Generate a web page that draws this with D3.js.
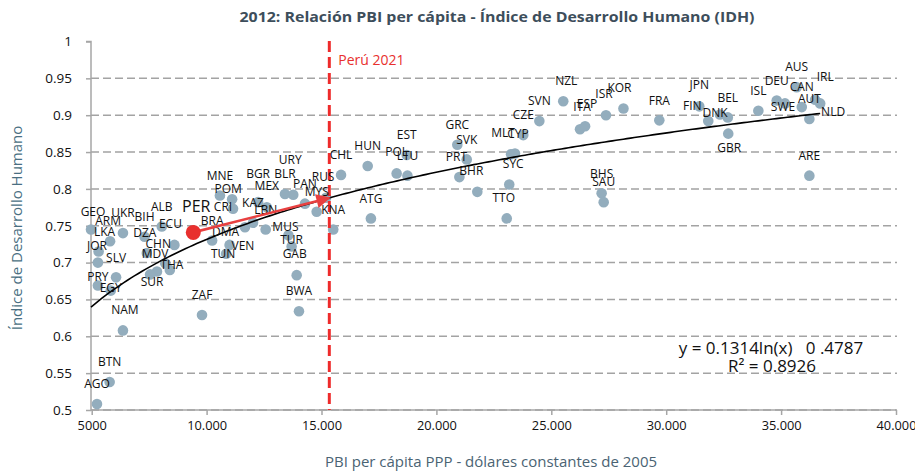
<!DOCTYPE html>
<html><head><meta charset="utf-8">
<script src="https://cdn.jsdelivr.net/npm/d3@7"></script>
<style>
body{margin:0;background:#fff;}
svg{display:block;font-family:'Open Sans',sans-serif;}
</style>
</head><body>
<svg id="chart" width="915" height="474"></svg>
<script>
// ---------------- DATA ----------------
const countries = ["GEO","ARM","UKR","BIH","ALB","ECU","LKA","DZA","JOR","CHN","MDV","SLV","THA","SUR","PRY","EGY","NAM","ZAF","BTN","AGO","BWA","GAB","TUR","MUS","BRA","DMA","TUN","VEN","KAZ","LBN","MNE","POM","CRI","BGR","MEX","BLR","URY","PAN","RUS","MYS","KNA","CHL","HUN","ATG","EST","POL","LTU","GRC","SVK","PRT","BHR","MLT","CYP","SYC","TTO","CZE","SVN","NZL","ITA","ESP","ISR","KOR","FRA","JPN","FIN","DNK","BEL","GBR","ISL","DEU","SWE","AUS","CAN","AUT","IRL","NLD","ARE","BHS","SAU"];
const gdpPerCapita = [4970,5800,6360,7300,8050,8600,5300,7400,5270,8200,7840,6060,8400,7540,5270,5830,6360,9800,5780,5230,14020,13920,13700,13560,10240,11000,10850,11670,12020,12570,10580,11110,11150,12240,12620,13410,13770,14280,15200,14790,15510,15850,17010,17150,18710,18270,18740,20910,21320,21000,21780,23250,23420,23170,23060,23780,24480,25520,26250,26470,27380,28140,29700,31440,31830,32340,32680,32700,34010,34810,35170,35680,35900,36230,36700,36480,36230,27190,27280];
const hdiValues = [0.745,0.729,0.740,0.735,0.749,0.724,0.715,0.713,0.700,0.699,0.688,0.680,0.690,0.684,0.669,0.662,0.608,0.629,0.538,0.508,0.634,0.683,0.722,0.737,0.730,0.724,0.712,0.748,0.754,0.745,0.791,0.786,0.773,0.782,0.775,0.793,0.792,0.780,0.788,0.769,0.745,0.819,0.831,0.760,0.846,0.821,0.818,0.860,0.840,0.816,0.796,0.847,0.848,0.806,0.760,0.873,0.892,0.919,0.881,0.885,0.900,0.909,0.893,0.912,0.892,0.901,0.897,0.875,0.906,0.920,0.916,0.938,0.911,0.895,0.916,0.921,0.818,0.794,0.782];

const peruCode = "PER";
const peruGdp = 9420;
const peruHdi = 0.741;
const peru2021Gdp = 15340;
const peru2021Label = "Perú 2021";

const trendA = 0.1314, trendB = -0.4787;
const equationText = "y = 0.1314ln(x)   0 .4787";
const r2Text = "R² = 0.8926";

const xTicks = [5000,10000,15000,20000,25000,30000,35000,40000];
const xTickLabels = ["5000","10.000","15.000","20.000","25.000","30.000","35.000","40.000"];
const yTicks = [0.5,0.55,0.6,0.65,0.7,0.75,0.8,0.85,0.9,0.95,1];
const yTickLabels = ["0.5","0.55","0.6","0.65","0.7","0.75","0.8","0.85","0.9","0.95","1"];

const titleText = "2012: Relación PBI per cápita - Índice de Desarrollo Humano (IDH)";
const xTitle = "PBI per cápita PPP - dólares constantes de 2005";
const yTitle = "Índice de Desarrollo Humano";

// ---------------- LAYOUT (label nudges, px) ----------------
const labelNudge = {
  GEO:[2,-18], ARM:[-2,-20], LKA:[6,-20], ECU:[-4,-21], JOR:[-1,-17], CHN:[-7,-20], MDV:[-2,-18],
  THA:[2,-5], SUR:[2,7], PRY:[0,-9], EGY:[0,-3], NAM:[2,-21], DZA:[-2,-20], GAB:[-2,-21], TUR:[0,-7],
  MUS:[-3,-9], DMA:[-4,-13], TUN:[-3,0], VEN:[-2,19], POM:[-4,-10], CRI:[-10,-2], BGR:[0,-28], MEX:[0,-22],
  URY:[-3,-35], RUS:[-3,-21], PRT:[-3,-20], BHR:[-6,-21], MLT:[-8,-21], CYP:[3,-20], SYC:[4,-21], TTO:[-3,-21],
  NZL:[3,-20], ITA:[2,-22], ESP:[2,-22], ISR:[-2,-21], KOR:[-4,-21], FIN:[-16,-15], DNK:[-5,-2], GBR:[1,14],
  SWE:[-2,3], IRL:[5,-27], NLD:[18,12], POL:[0,-22], JPN:[0,-22]
};

// ---------------- CHART ----------------
const svg = d3.select("#chart");
const x = d3.scaleLinear().domain([5000,40000]).range([91.7,896]);
const y = d3.scaleLinear().domain([0.5,1]).range([410,41.5]);
const axisX0 = 91;

// title
svg.append("text").attr("x",497).attr("y",22).attr("text-anchor","middle")
  .attr("font-weight","bold").attr("font-size",14.5).attr("fill","#3d4e5b")
  .attr("textLength",515).attr("lengthAdjust","spacingAndGlyphs").text(titleText);

// gridlines
svg.append("g").selectAll("line").data(yTicks.filter(t=>t<1)).join("line")
  .attr("x1",axisX0).attr("x2",897).attr("y1",d=>y(d)).attr("y2",d=>y(d))
  .attr("stroke","#a3a3a3").attr("stroke-width",1.5).attr("stroke-dasharray","8,4");

// y axis
const yAxis = d3.axisLeft(y).tickValues(yTicks).tickFormat((d,i)=>yTickLabels[i]).tickSize(5).tickPadding(14);
const gy = svg.append("g").attr("transform",`translate(${axisX0},0)`).call(yAxis);
gy.select(".domain").attr("stroke","#a6a6a6").attr("stroke-width",1.5).attr("d",`M-5,${y(1)}H0V${y(0.5)}`);
gy.selectAll(".tick line").attr("stroke","#a6a6a6").attr("stroke-width",1.5);
gy.selectAll(".tick text").attr("font-size",13.5).attr("fill","#111").attr("font-family","'Open Sans',sans-serif");

// x axis
const xAxis = d3.axisBottom(x).tickValues(xTicks).tickFormat((d,i)=>xTickLabels[i]).tickSize(5).tickPadding(6);
const gx = svg.append("g").attr("transform",`translate(0,${y(0.5)})`).call(xAxis);
gx.select(".domain").attr("stroke","#a6a6a6").attr("stroke-width",1.5).attr("d",`M${axisX0},0H${x(40000)}`);
gx.selectAll(".tick line").attr("stroke","#a6a6a6").attr("stroke-width",1.5);
gx.selectAll(".tick text").attr("font-size",12.8).attr("fill","#111").attr("font-family","'Open Sans',sans-serif");

// axis titles
svg.append("text").attr("x",491).attr("y",467).attr("text-anchor","middle")
  .attr("font-size",15).attr("fill","#4a6373").text(xTitle);
svg.append("text").attr("transform","translate(22,228) rotate(-90)").attr("text-anchor","middle")
  .attr("font-size",15).attr("fill","#4a6f82").text(yTitle);

// data points
const pts = countries.map((c,i)=>({code:c, gdp:gdpPerCapita[i], hdi:hdiValues[i]}));
svg.append("g").selectAll("circle").data(pts).join("circle")
  .attr("cx",d=>x(d.gdp)).attr("cy",d=>y(d.hdi)).attr("r",5.3).attr("fill","#93adbd");

// trend line
const gMin = d3.min(gdpPerCapita), gMax = d3.max(gdpPerCapita);
const trendPts = d3.range(0,201).map(k=>gMin + (gMax-gMin)*k/200);
svg.append("path").datum(trendPts)
  .attr("d", d3.line().x(g=>x(g)).y(g=>y(trendA*Math.log(g)+trendB)))
  .attr("fill","none").attr("stroke","#000").attr("stroke-width",1.6);

// Peru 2021 dashed line
svg.append("line").attr("x1",x(peru2021Gdp)).attr("x2",x(peru2021Gdp)).attr("y1",41).attr("y2",y(0.5))
  .attr("stroke","#ee2b2b").attr("stroke-width",3).attr("stroke-dasharray","11,5");
svg.append("text").attr("x",x(peru2021Gdp)+9).attr("y",65).attr("font-size",14)
  .attr("fill","#e8302e").text(peru2021Label);

// labels
svg.append("g").selectAll("text").data(pts).join("text")
  .attr("x",d=>x(d.gdp)+(labelNudge[d.code]||[0,-20])[0])
  .attr("y",d=>y(d.hdi)+(labelNudge[d.code]||[0,-20])[1])
  .attr("dy","0.35em").attr("text-anchor","middle").attr("font-size",12).attr("fill","#111")
  .text(d=>d.code);

// arrow from Peru to 2021 trend point
svg.append("defs").append("marker").attr("id","ah").attr("viewBox","0 0 10 10")
  .attr("refX",9).attr("refY",5).attr("markerWidth",6.5).attr("markerHeight",5.5)
  .attr("markerUnits","strokeWidth").attr("orient","auto")
  .append("path").attr("d","M0,0L10,5L0,10Z").attr("fill","#e84040");
const px0 = x(peruGdp), py0 = y(peruHdi);
const px1 = x(peru2021Gdp), py1 = y(trendA*Math.log(peru2021Gdp)+trendB);
svg.append("line").attr("x1",px0).attr("y1",py0).attr("x2",px1).attr("y2",py1)
  .attr("stroke","#e84040").attr("stroke-width",2.6).attr("marker-end","url(#ah)");
svg.append("circle").attr("cx",px0).attr("cy",py0).attr("r",7.5).attr("fill","#e8302e");
svg.append("text").attr("x",px0+3).attr("y",py0-26).attr("dy","0.35em").attr("text-anchor","middle")
  .attr("font-size",16).attr("fill","#111").text(peruCode);

// equation
svg.append("text").attr("x",771).attr("y",348).attr("dy","0.35em").attr("text-anchor","middle")
  .attr("font-size",17).attr("fill","#111").style("white-space","pre").text(equationText);
svg.append("text").attr("x",772).attr("y",366).attr("dy","0.35em").attr("text-anchor","middle")
  .attr("font-size",17).attr("fill","#111").text(r2Text);
</script>
</body></html>
